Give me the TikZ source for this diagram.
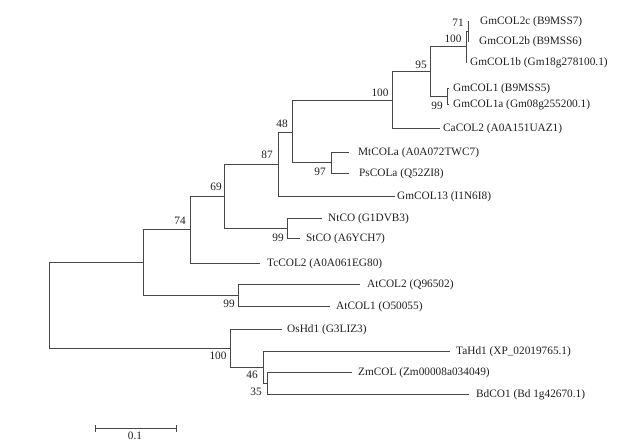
\documentclass[tikz,border=0pt]{standalone}
\usepackage{fontspec}
\setmainfont{Liberation Serif}
\begin{document}
\begin{tikzpicture}[x=1pt,y=-1pt,
  br/.style={draw=black!72,line width=0.9pt},
  leaf/.style={anchor=west,inner sep=0pt,text height=8pt,text depth=0.6pt,text=black!88,font=\fontsize{11.3}{13}\selectfont},
  boot/.style={anchor=center,inner sep=0pt,text height=8pt,text depth=0.6pt,text=black!88,font=\fontsize{11.3}{13}\selectfont}]
\useasboundingbox (0,0) rectangle (621,444);
% internal nodes
\coordinate (R) at (49,305.5);
\coordinate (A) at (143,262);
\coordinate (B) at (190,229);
\coordinate (C) at (224,196.5);
\coordinate (Nt) at (287,228);
\coordinate (D) at (278,164);
\coordinate (E) at (292,132);
\coordinate (Mt) at (331,162.5);
\coordinate (F) at (392,100.5);
\coordinate (G) at (430,71.5);
\coordinate (I) at (447,96);
\coordinate (H) at (466,46.5);
\coordinate (J) at (468,31);
\coordinate (At) at (238,295);
\coordinate (M) at (230,348);
\coordinate (K) at (263,367);
\coordinate (L) at (267,383);
% tips
\coordinate (t2c) at (469,21);
\coordinate (t2b) at (469,41);
\coordinate (t1b) at (467,62);
\coordinate (t1) at (449,88);
\coordinate (t1a) at (449,104);
\coordinate (tCa) at (440,128);
\coordinate (tMt) at (349,152);
\coordinate (tPs) at (349,173);
\coordinate (t13) at (395,196);
\coordinate (tNt) at (322,218);
\coordinate (tSt) at (300,238);
\coordinate (tTc) at (260,263);
\coordinate (tAt2) at (360,284);
\coordinate (tAt1) at (330,306);
\coordinate (tOs) at (282,329);
\coordinate (tTa) at (450,351);
\coordinate (tZm) at (352,372);
\coordinate (tBd) at (469,394);
% leaf labels
\node[leaf] (l2c) at (480,21) {GmCOL2c (B9MSS7)};
\node[leaf] (l2b) at (479,41) {GmCOL2b (B9MSS6)};
\node[leaf] (l1b) at (470,62) {GmCOL1b (Gm18g278100.1)};
\node[leaf] (l1) at (453,88) {GmCOL1 (B9MSS5)};
\node[leaf] (l1a) at (453,104) {GmCOL1a (Gm08g255200.1)};
\node[leaf] (lCa) at (443,128) {CaCOL2 (A0A151UAZ1)};
\node[leaf] (lMt) at (358,152) {MtCOLa (A0A072TWC7)};
\node[leaf] (lPs) at (359,173) {PsCOLa (Q52ZI8)};
\node[leaf] (l13) at (397,196) {GmCOL13 (I1N6I8)};
\node[leaf] (lNt) at (328,218) {NtCO (G1DVB3)};
\node[leaf] (lSt) at (306,238) {StCO (A6YCH7)};
\node[leaf] (lTc) at (267,263) {TcCOL2 (A0A061EG80)};
\node[leaf] (lAt2) at (367,284) {AtCOL2 (Q96502)};
\node[leaf] (lAt1) at (336,306) {AtCOL1 (O50055)};
\node[leaf] (lOs) at (287,329) {OsHd1 (G3LIZ3)};
\node[leaf] (lTa) at (456,351) {TaHd1 (XP\_02019765.1)};
\node[leaf] (lZm) at (358,372) {ZmCOL (Zm00008a034049)};
\node[leaf] (lBd) at (476,394) {BdCO1 (Bd 1g42670.1)};
% branches
\draw[br] (R) |- (A);  \draw[br] (R) |- (M);
\draw[br] (A) |- (B);  \draw[br] (A) |- (At);
\draw[br] (B) |- (C);  \draw[br] (B) |- (tTc);
\draw[br] (C) |- (D);  \draw[br] (C) |- (Nt);
\draw[br] (Nt) |- (tNt); \draw[br] (Nt) |- (tSt);
\draw[br] (D) |- (E);  \draw[br] (D) |- (t13);
\draw[br] (E) |- (F);  \draw[br] (E) |- (Mt);
\draw[br] (Mt) |- (tMt); \draw[br] (Mt) |- (tPs);
\draw[br] (F) |- (G);  \draw[br] (F) |- (tCa);
\draw[br] (G) |- (H);  \draw[br] (G) |- (I);
\draw[br] (I) |- (t1); \draw[br] (I) |- (t1a);
\draw[br] (H) |- (J);  \draw[br] (H) |- (t1b);
\draw[br] (J) |- (t2c); \draw[br] (J) |- (t2b);
\draw[br] (At) |- (tAt2); \draw[br] (At) |- (tAt1);
\draw[br] (M) |- (tOs); \draw[br] (M) |- (K);
\draw[br] (K) |- (tTa); \draw[br] (K) |- (L);
\draw[br] (L) |- (tZm); \draw[br] (L) |- (tBd);
% bootstrap values
\node[boot] (b71) at (458,23) {71};
\node[boot] (b100a) at (453,39) {100};
\node[boot] (b95) at (421,65) {95};
\node[boot] (b99a) at (437,106) {99};
\node[boot] (b100b) at (380,93) {100};
\node[boot] (b48) at (282,124) {48};
\node[boot] (b97) at (320,172) {97};
\node[boot] (b87) at (267,155) {87};
\node[boot] (b69) at (216,187) {69};
\node[boot] (b99b) at (278,238) {99};
\node[boot] (b74) at (180,221) {74};
\node[boot] (b99c) at (229,304) {99};
\node[boot] (b100c) at (218,356) {100};
\node[boot] (b46) at (252,375) {46};
\node[boot] (b35) at (256,392) {35};
% scale bar
\coordinate (s1) at (95,428);
\coordinate (s2) at (176,428);
\draw[br] (s1) -- (s2);
\draw[br] ([yshift=-4pt]s1) -- ([yshift=3pt]s1);
\draw[br] ([yshift=-4pt]s2) -- ([yshift=3pt]s2);
\node[boot] (sl) at (135,436) {0.1};
\end{tikzpicture}
\end{document}
